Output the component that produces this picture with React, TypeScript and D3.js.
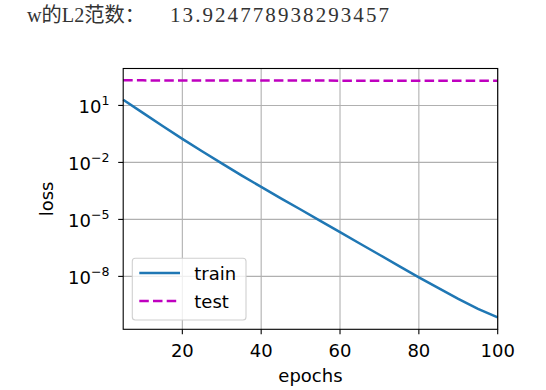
import React from 'react';
import * as d3 from 'd3';

// epochs logged every 5 steps
const epochs = [5, 10, 15, 20, 25, 30, 35, 40, 45, 50, 55, 60, 65, 70, 75, 80, 85, 90, 95, 100];

const trainLoss = [
  20, 4.07, 0.832, 0.174, 0.0389, 0.00891, 0.00209, 5.13e-4, 1.29e-4, 3.31e-5,
  8.3e-6, 2.14e-6, 5.37e-7, 1.38e-7, 3.47e-8, 8.9e-9, 2.4e-9, 6.6e-10, 1.95e-10, 6.9e-11,
];

const testLoss = [
  209, 208.5, 208, 207.5, 207, 206, 205.5, 205, 204, 203.5,
  203, 202, 201.5, 201, 200, 199.5, 199, 198, 197.5, 197,
];

const xTicks = [20, 40, 60, 80, 100];
const yTickExps = [1, -2, -5, -8];

const titlePrefix = 'w的L2范数：';
const titleValue = '13.924778938293457';

const W = 546;
const H = 390;
const plot = { left: 123.2, right: 497.7, top: 68.5, bottom: 329.3 };

const FONT = 'DejaVu Sans, sans-serif';
const TRAIN = '#1f77b4';
const TEST = '#bf00bf';

export default function App() {
  const x = d3.scaleLinear().domain([5, 100]).range([plot.left, plot.right]);

  // matplotlib-like 5% margin in log space
  const all = [...trainLoss, ...testLoss];
  const lo = Math.log10(d3.min(all) as number);
  const hi = Math.log10(d3.max(all) as number);
  const pad = (hi - lo) * 0.05;
  const y = d3
    .scaleLog()
    .domain([Math.pow(10, lo - pad), Math.pow(10, hi + pad)])
    .range([plot.bottom, plot.top]);

  const line = d3
    .line<number>()
    .x((_, i) => x(epochs[i]))
    .y((d) => y(d));

  const minus = '\u2212';

  return (
    <svg
      width={W}
      height={H}
      style={{ position: 'fixed', left: 0, top: 0, background: '#fff' }}
    >
      <rect x={0} y={0} width={W} height={H} fill="#fff" />

      {/* printed output line above the figure */}
      <text
        x={27}
        y={21.5}
        fontSize={20}
        fontFamily="Liberation Serif, Noto Sans CJK SC"
        textLength={118}
        lengthAdjust="spacingAndGlyphs"
        fill="#333"
      >
        {titlePrefix}
      </text>
      <text
        x={170}
        y={21.5}
        fontSize={21}
        fontFamily="Liberation Serif, serif"
        textLength={219}
        lengthAdjust="spacing"
        fill="#333"
      >
        {titleValue}
      </text>

      {/* grid */}
      <g stroke="#b0b0b0" strokeWidth={1.1}>
        {xTicks.map((t) => (
          <line key={'gx' + t} x1={x(t)} x2={x(t)} y1={plot.top} y2={plot.bottom} />
        ))}
        {yTickExps.map((e) => (
          <line
            key={'gy' + e}
            x1={plot.left}
            x2={plot.right}
            y1={y(Math.pow(10, e))}
            y2={y(Math.pow(10, e))}
          />
        ))}
      </g>

      {/* series */}
      <path d={line(trainLoss) || ''} fill="none" stroke={TRAIN} strokeWidth={2.5} />
      <path
        d={line(testLoss) || ''}
        fill="none"
        stroke={TEST}
        strokeWidth={2.5}
        strokeDasharray="9.5,4.2"
      />

      {/* legend */}
      <g>
        <rect
          x={132.3}
          y={258.3}
          width={113.7}
          height={61.7}
          rx={3}
          fill="#fff"
          fillOpacity={0.8}
          stroke="#d0d0d0"
          strokeWidth={1.1}
        />
        <line x1={139.3} x2={180} y1={273} y2={273} stroke={TRAIN} strokeWidth={2.5} />
        <text x={194.3} y={279.5} fontSize={18} fontFamily={FONT} fill="#000">
          train
        </text>
        <line
          x1={139.3}
          x2={180}
          y1={301}
          y2={301}
          stroke={TEST}
          strokeWidth={2.5}
          strokeDasharray="9.5,4.2"
        />
        <text x={194.3} y={307.5} fontSize={18} fontFamily={FONT} fill="#000">
          test
        </text>
      </g>

      {/* frame */}
      <rect
        x={plot.left}
        y={plot.top}
        width={plot.right - plot.left}
        height={plot.bottom - plot.top}
        fill="none"
        stroke="#000"
        strokeWidth={1.1}
      />

      {/* x axis */}
      {xTicks.map((t) => (
        <g key={'xt' + t}>
          <line x1={x(t)} x2={x(t)} y1={plot.bottom} y2={plot.bottom + 5} stroke="#000" strokeWidth={1.1} />
          <text
            x={x(t)}
            y={356.7}
            textAnchor="middle"
            fontSize={18}
            fontFamily={FONT}
            fill="#000"
          >
            {t}
          </text>
        </g>
      ))}
      <text
        x={(plot.left + plot.right) / 2}
        y={381.5}
        textAnchor="middle"
        fontSize={18}
        fontFamily={FONT}
        fill="#000"
      >
        epochs
      </text>

      {/* y axis */}
      {yTickExps.map((e) => {
        const ty = y(Math.pow(10, e));
        return (
          <g key={'yt' + e}>
            <line x1={plot.left - 5} x2={plot.left} y1={ty} y2={ty} stroke="#000" strokeWidth={1.1} />
            <text
              x={109.5}
              y={ty + 7.6}
              textAnchor="end"
              fontSize={18}
              fontFamily={FONT}
              fill="#000"
            >
              10
              <tspan fontSize={12.6} dy={-7.6}>
                {e < 0 ? minus + Math.abs(e) : String(e)}
              </tspan>
            </text>
          </g>
        );
      })}
      <text
        transform={`translate(53, ${(plot.top + plot.bottom) / 2}) rotate(-90)`}
        textAnchor="middle"
        fontSize={18}
        fontFamily={FONT}
        fill="#000"
      >
        loss
      </text>
    </svg>
  );
}
